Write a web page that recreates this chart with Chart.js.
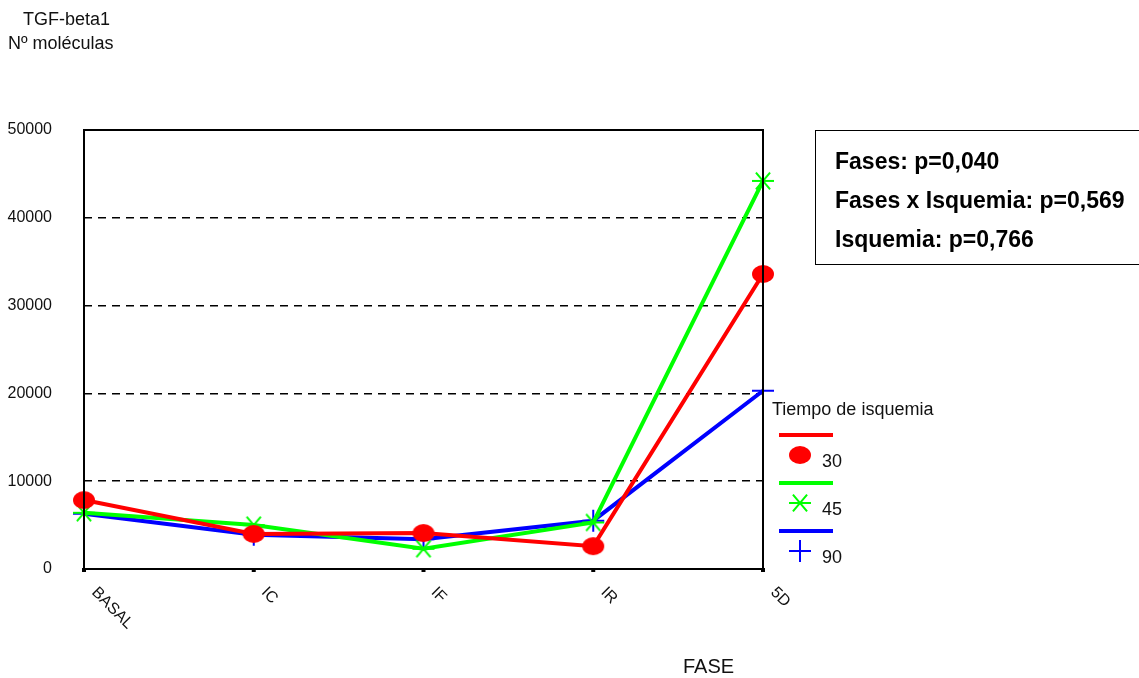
<!DOCTYPE html>
<html>
<head>
<meta charset="utf-8">
<script src="https://cdn.jsdelivr.net/npm/chart.js@4/dist/chart.umd.min.js"></script>
<style>
    body { margin: 0; background: #fff; font-family: "Liberation Sans", Arial, sans-serif; }
    #wrap { position: relative; width: 1139px; height: 678px; }
    .txt { position: absolute; color: #111; white-space: nowrap; }
    #stats { position: absolute; left: 815px; top: 130px; width: 340px; height: 135px; border: 1.5px solid #000; box-sizing: border-box; }
    #stats div { position: absolute; left: 19px; font-weight: bold; font-size: 23px; color: #000; }
</style>
</head>
<body>
<div id="wrap">
    <canvas id="chart" width="1139" height="678"></canvas>
    <div class="txt" style="left:23px; top:9px; font-size:18px;">TGF-beta1</div>
    <div class="txt" style="left:8px; top:33px; font-size:18px;">Nº moléculas</div>
    <div class="txt" style="left:683px; top:655px; font-size:20px;">FASE</div>
    <div id="stats">
        <div style="top:17px;">Fases: p=0,040</div>
        <div style="top:56px;">Fases x Isquemia: p=0,569</div>
        <div style="top:95px;">Isquemia: p=0,766</div>
    </div>
</div>
<script>
// Data
const categories = ['BASAL', 'IC', 'IF', 'IR', '5D'];
const serie30 = [7850, 4000, 4100, 2600, 33600];
const serie45 = [6400, 5000, 2300, 5300, 44200];
const serie90 = [6300, 3900, 3400, 5500, 20300];
const seriesLabels = ['30', '45', '90'];
const yMin = 0;
const yMax = 50000;
const yStep = 10000;

const RED = '#ff0000';
const GREEN = '#00ff00';
const BLUE = '#0000ff';
const FONT = '"Liberation Sans", Arial, sans-serif';

// Custom marker: filled ellipse
function makeEllipse(color) {
    const c = document.createElement('canvas');
    c.width = 24; c.height = 20;
    const g = c.getContext('2d');
    g.fillStyle = color;
    g.beginPath();
    g.ellipse(12, 10, 11, 9, 0, 0, Math.PI * 2);
    g.fill();
    return c;
}

// Custom marker: six-spoke asterisk
function makeAsterisk(color) {
    const c = document.createElement('canvas');
    c.width = 26; c.height = 24;
    const g = c.getContext('2d');
    g.strokeStyle = color;
    g.lineWidth = 2;
    g.beginPath();
    [0, 50, 130].forEach(a => {
        const r = a * Math.PI / 180;
        const dx = Math.cos(r) * 11, dy = Math.sin(r) * 11;
        g.moveTo(13 - dx, 12 - dy);
        g.lineTo(13 + dx, 12 + dy);
    });
    g.stroke();
    return c;
}

const redMark = makeEllipse(RED);
const greenMark = makeAsterisk(GREEN);

// Box around plot area + rotated x labels + legend
const decorPlugin = {
    id: 'decor',
    afterDraw(chart) {
        const { ctx, chartArea: a } = chart;
        const xs = chart.scales.x;
        ctx.save();
        ctx.setLineDash([]);
        ctx.strokeStyle = '#000';
        ctx.lineWidth = 2;
        ctx.strokeRect(a.left, a.top, a.right - a.left, a.bottom - a.top);

        // small tick squares on x axis
        ctx.fillStyle = '#000';
        categories.forEach((c, i) => {
            const x = xs.getPixelForValue(i);
            ctx.fillRect(x - 2, a.bottom - 1, 4, 4);
        });

        // rotated category labels
        ctx.font = '16px ' + FONT;
        ctx.fillStyle = '#111';
        ctx.textAlign = 'left';
        ctx.textBaseline = 'middle';
        categories.forEach((c, i) => {
            const x = xs.getPixelForValue(i);
            ctx.save();
            ctx.translate(x + 10, a.bottom + 21);
            ctx.rotate(Math.PI / 4);
            ctx.fillText(c, 0, 0);
            ctx.restore();
        });

        // legend
        ctx.font = '18px ' + FONT;
        const lx = a.right + 9;
        ctx.fillText('Tiempo de isquemia', lx, 410);
        const items = [
            { color: RED, mark: 'ellipse' },
            { color: GREEN, mark: 'asterisk' },
            { color: BLUE, mark: 'cross' }
        ];
        items.forEach((it, i) => {
            const y0 = 435 + i * 48;
            ctx.strokeStyle = it.color;
            ctx.lineWidth = 4;
            ctx.beginPath();
            ctx.moveTo(a.right + 16, y0);
            ctx.lineTo(a.right + 70, y0);
            ctx.stroke();
            const my = y0 + 20;
            const mx = a.right + 37;
            if (it.mark === 'ellipse') ctx.drawImage(redMark, mx - 12, my - 10);
            else if (it.mark === 'asterisk') ctx.drawImage(greenMark, mx - 13, my - 12);
            else {
                ctx.lineWidth = 2;
                ctx.beginPath();
                ctx.moveTo(mx - 11, my); ctx.lineTo(mx + 11, my);
                ctx.moveTo(mx, my - 11); ctx.lineTo(mx, my + 11);
                ctx.stroke();
            }
            ctx.fillStyle = '#111';
            ctx.fillText(seriesLabels[i], a.right + 59, my + 7);
        });
        ctx.restore();
    }
};

new Chart(document.getElementById('chart'), {
    type: 'line',
    data: {
        labels: categories,
        datasets: [
            { label: seriesLabels[0], data: serie30, borderColor: RED, backgroundColor: RED, borderWidth: 4, pointStyle: redMark, pointRadius: 10 },
            { label: seriesLabels[1], data: serie45, borderColor: GREEN, backgroundColor: GREEN, borderWidth: 4, pointStyle: greenMark, pointRadius: 10 },
            { label: seriesLabels[2], data: serie90, borderColor: BLUE, backgroundColor: BLUE, borderWidth: 4, pointStyle: 'cross', pointRadius: 11, pointBorderWidth: 2 }
        ]
    },
    options: {
        responsive: false,
        animation: false,
        layout: { padding: { left: 0, top: 130, right: 376, bottom: 0 } },
        plugins: { legend: { display: false }, tooltip: { enabled: false } },
        elements: { line: { tension: 0 } },
        scales: {
            x: {
                offset: false,
                grid: { display: false },
                border: { display: false },
                ticks: { display: false },
                afterFit(scale) { scale.height = 109; }
            },
            y: {
                min: yMin,
                max: yMax,
                border: { display: false, dash: [8, 6] },
                grid: {
                    drawTicks: false,
                    color: ctx => (ctx.tick.value === yMin || ctx.tick.value === yMax) ? 'rgba(0,0,0,0)' : '#000',
                    lineWidth: 1.5
                },
                ticks: {
                    stepSize: yStep,
                    padding: 32,
                    color: '#111',
                    font: { family: FONT, size: 16 },
                    callback: v => String(v)
                },
                afterFit(scale) { scale.width = 84; }
            }
        }
    },
    plugins: [decorPlugin]
});
</script>
</body>
</html>
